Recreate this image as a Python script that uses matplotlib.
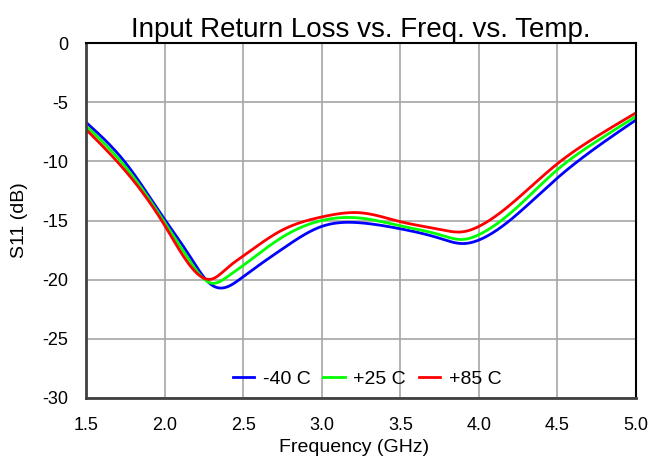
import numpy as np
import matplotlib
matplotlib.use("Agg")
import matplotlib.pyplot as plt

plt.rcParams['font.family'] = ['Liberation Sans', 'DejaVu Sans']
plt.rcParams['axes.unicode_minus'] = False

freq = [1.5, 1.75, 2.0, 2.15, 2.3, 2.4, 2.5, 2.75, 3.0, 3.25, 3.5, 3.75, 3.9, 4.0, 4.25, 4.5, 4.75, 5.0]
s11_m40 = [-6.7, -10.1, -14.9, -17.8, -20.45, -20.6, -19.75, -17.4, -15.5, -15.2, -15.7, -16.5, -16.95, -16.65, -14.4, -11.4, -8.8, -6.5]
s11_p25 = [-7.0, -10.45, -15.15, -18.2, -20.3, -19.75, -18.8, -16.4, -15.0, -14.8, -15.45, -16.2, -16.6, -16.2, -13.8, -10.7, -8.3, -6.2]
s11_p85 = [-7.3, -10.8, -15.4, -18.6, -19.95, -19.0, -18.0, -15.8, -14.7, -14.35, -15.1, -15.75, -15.95, -15.5, -13.1, -10.2, -7.9, -5.9]

labels = ['-40 C', '+25 C', '+85 C']
colors = ['#0000ff', '#00ff00', '#ff0000']

def smooth(x, y, n=500):
    # natural cubic spline through the read points (for drawing only)
    x = np.asarray(x, float); y = np.asarray(y, float)
    N = len(x); h = np.diff(x)
    A = np.zeros((N, N)); b = np.zeros(N)
    A[0, 0] = 1; A[-1, -1] = 1
    for i in range(1, N - 1):
        A[i, i-1] = h[i-1]; A[i, i] = 2*(h[i-1] + h[i]); A[i, i+1] = h[i]
        b[i] = 6*((y[i+1]-y[i])/h[i] - (y[i]-y[i-1])/h[i-1])
    M = np.linalg.solve(A, b)
    xs = np.linspace(x[0], x[-1], n)
    idx = np.clip(np.searchsorted(x, xs) - 1, 0, N - 2)
    xi, xi1, hi = x[idx], x[idx+1], h[idx]
    ys = (M[idx]*(xi1-xs)**3/(6*hi) + M[idx+1]*(xs-xi)**3/(6*hi)
          + (y[idx]/hi - M[idx]*hi/6)*(xi1-xs) + (y[idx+1]/hi - M[idx+1]*hi/6)*(xs-xi))
    return xs, ys

fig = plt.figure(figsize=(6.52, 4.59), dpi=100)
ax = fig.add_axes([0.1319, 0.1329, 0.8436, 0.7734])

for ys, lab, c in zip([s11_m40, s11_p25, s11_p85], labels, colors):
    xs, yy = smooth(freq, ys)
    ax.plot(xs, yy, color=c, lw=2, label=lab)

ax.set_xlim(1.5, 5.0)
ax.set_ylim(-30, 0)
xt = np.arange(1.5, 5.01, 0.5)
ax.set_xticks(xt)
ax.set_xticklabels([f'{v:.1f}' for v in xt])
ax.set_yticks(np.arange(-30, 1, 5))
ax.grid(True, color='#a6a6a6', lw=1.2)
ax.set_axisbelow(True)
ax.tick_params(axis='x', length=0, labelsize=13, pad=14)
ax.tick_params(axis='y', length=0, labelsize=13, pad=13)
for s in ['left', 'bottom']:
    ax.spines[s].set_color('#404040'); ax.spines[s].set_linewidth(2)
for s in ['top', 'right']:
    ax.spines[s].set_color('#000000'); ax.spines[s].set_linewidth(1.5)

ax.set_title('Input Return Loss vs. Freq. vs. Temp.', fontsize=20, pad=3)
ax.set_xlabel('Frequency (GHz)', fontsize=14, labelpad=4)
ax.xaxis.set_label_coords(0.487, -0.115)
ax.set_ylabel('S11 (dB)', fontsize=14, labelpad=10)

ax.legend(loc='lower center', ncol=3, frameon=False, fontsize=14,
          handlelength=1.1, columnspacing=0.65, handletextpad=0.45,
          bbox_to_anchor=(0.511, -0.02))

fig.savefig('out.png', dpi=100)
